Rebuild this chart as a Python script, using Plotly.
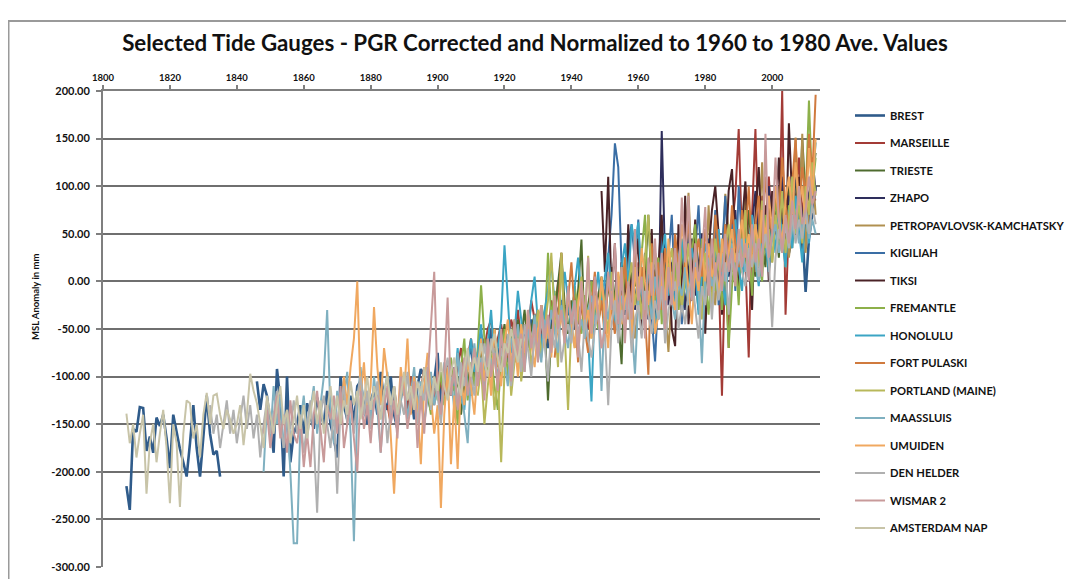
import plotly.graph_objects as go

title_text = "Selected Tide Gauges - PGR Corrected and Normalized to 1960 to 1980 Ave. Values"
y_title = "MSL Anomaly in mm"
x_ticks = [1800, 1820, 1840, 1860, 1880, 1900, 1920, 1940, 1960, 1980, 2000]
y_ticks = [200, 150, 100, 50, 0, -50, -100, -150, -200, -250, -300]

names = ["BREST", "MARSEILLE", "TRIESTE", "ZHAPO", "PETROPAVLOVSK-KAMCHATSKY", "KIGILIAH",
         "TIKSI", "FREMANTLE", "HONOLULU", "FORT PULASKI", "PORTLAND (MAINE)", "MAASSLUIS",
         "UMUIDEN", "DEN HELDER", "WISMAR 2", "AMSTERDAM NAP"]
colors = ["#2F5B8A", "#A33B36", "#4E6B2E", "#2E2E5C", "#B09050", "#3A6EA5",
          "#4A2226", "#8DB04A", "#3BA5C4", "#D07A3E", "#B8B85A", "#7FB0C0",
          "#F0A860", "#B0B0B0", "#C89A9A", "#C8C4A8"]

# first year of each series (one value per year after that)
start_years = [1807, 1885, 1905, 1959, 1957, 1950, 1949, 1897, 1905, 1935, 1912, 1848, 1871, 1832, 1848, 1807]

brest = [-215, -240, -155,                                                 # 1807-1809
         -158, -132, -133, -178, -163, -180, -143, -152, -140, -165,       # 1810s
         -196, -140, -160, -176, -190, -205, -170, -130, -175, -205,       # 1820s
         -163, -120, -160, -182, -178, -205, None, None, None, None,       # 1830s
         None, None, None, None, None, None, -105, -135, -108, -120,       # 1840s
         -150, -180, -92, -125, -205, -100, -190, -160, -150, -130,        # 1850s
         -160, -128, -142, -155, -122, -140, -150, -115, -150, -165,       # 1860s
         -185, -100, -130, -145, -120, -150, -110, -105, -130, -150,       # 1870s
         -125, -115, -140, -95, -125, -135, -100, -140, -155, -120,        # 1880s
         -100, -130, -115, -145, -110, -92, -100, -120, -135, -105,        # 1890s
         -75, -130, -95, -110, -120, -90, -105, -115, -95, -80,            # 1900s
         -70, -100, -85, -95, -60, -75, -50, -80, -70, -90,                # 1910s
         -65, -85, -55, -60, -45, -70, -50, -65, -40, -55,                 # 1920s
         -45, -60, -50, -70, -40, -35, -30, -20, -45, -30,                 # 1930s
         -40, -50, -35, -25, None, None, None, None, None, None,           # 1940s
         None, None, None, -25, -20, -10, -35, -15, 5, -20,                # 1950s
         0, 15, -20, -25, -10, 10, 20, -5, -10, 5,                         # 1960s
         -15, -5, -20, 0, 15, -10, -15, 20, 10, 15,                        # 1970s
         -5, 20, 10, 25, 5, -10, 5, 10, 40, 20,                            # 1980s
         35, 10, 15, 25, 45, 30, 10, 30, 40, 55,                           # 1990s
         60, 65, 45, 40, 35, 30, 45, 60, 50, 55,                           # 2000s
         -11, 45, 70, 100]                                                 # 2010-2013

marseille = [-130, -150, -110, -140, -125,                                 # 1885-1889
             -105, -135, -100, -120, -140, -115, -90, -125, -105, -130,    # 1890s
             -95, -110, -120, -85, -100, -115, -90, -70, -100, -80,        # 1900s
             -60, -90, -75, -55, -70, -50, -40, -75, -60, -45,             # 1910s
             -70, -80, -40, -55, -30, -65, -45, -55, -20, -40,             # 1920s
             -30, -55, -35, -60, -20, -40, 0, -30, -45, -15,               # 1930s
             -35, -10, -45, -30, -15, -50, -20, -5, -40, -25,              # 1940s
             -10, 5, -20, -35, -15, 10, -25, -10, 15, -5,                  # 1950s
             20, 5, -20, 10, -15, 0, 25, 5, -10, 15,                       # 1960s
             -5, -25, 10, -15, 20, 0, -20, 30, 5, 20,                      # 1970s
             -10, 15, 35, -5, 10, -120, 30, -70, 60, 90,                   # 1980s
             160, 40, 20, -80, 70, 160, 30, 90, 60, 110,                   # 1990s
             50, 80, 40, 200, -35, 60, 110, 80, 130, 70,                   # 2000s
             100, 60, 90, 85]                                              # 2010-2013

trieste = [-125, -100, -140, -110, -95,                                    # 1905-1909
           -120, -85, -105, -70, -95, -60, -80, -50, -90, -70,             # 1910s
           -45, -75, -55, -85, -40, -60, -30, -70, -50, -35,               # 1920s
           -60, -25, -45, -125, -50, -35, -5, 30, -25, -55,                # 1930s
           -20, -45, -10, 44, -60, -25, 0, -35, -15, 5,                    # 1940s
           -30, -10, 15, -20, -40, -87, 25, -15, 10, -5,                   # 1950s
           15, -25, 5, 70, -10, 10, -20, 40, 0, -15,                       # 1960s
           20, -5, 35, -25, 10, -10, 25, 5, -30, 15,                       # 1970s
           -5, 30, -15, 20, 45, 0, 25, 55, 10, 35,                         # 1980s
           -10, 50, 20, 75, 30, 5, 60, 40, 15, 80,                         # 1990s
           45, 65, 25, 85, 50, 100, 35, 120, 60, 150,                      # 2000s
           90, 140, 110, 135]                                              # 2010-2013

zhapo = [-30,                                                              # 1959
         10, -20, 25, -40, 0, 30, -40, 158, 20, -25,                       # 1960s
         15, 40, -5, 25, -30, 10, 45, -15, 20, 50,                         # 1970s
         0, 35, -20, 55, 10, 30, 60, 5, 40, 75,                            # 1980s
         15, 50, 85, 25, 60, 95, 30, 70, 45, 100,                          # 1990s
         55, 80, 40, 110, 65, 90, 50, 120, 75, 60,                         # 2000s
         105, 85, 130, 95]                                                 # 2010-2013

petro = [-40, -10, -60,                                                    # 1957-1959
         -20, 10, -35, 20, -15, -45, 5, 30, -25, -74,                      # 1960s
         -10, 25, -30, 0, 35, 93, 10, 60, -5, 20,                          # 1970s
         -15, 80, 5, -25, 40, 15, 92, 50, 20, 65,                          # 1980s
         0, 35, 100, 25, 55, 10, 45, 125, 30, 70,                          # 1990s
         20, 60, 100, 40, 75, 25, 55, 151, 45, 155,                        # 2000s
         30, 80, 120, 70]                                                  # 2010-2013

kigiliah = [-20, 30, 70, 145, 120, 15, -30, 40, 60, 20,                    # 1950s
            65, -20, 30, 10, -40, -84, -10, 50, -35, 25,                   # 1960s
            70, -15, 40, -45, 10, 55, -20, 35, 80, 0,                      # 1970s
            -40, 45, 10, 75, -25, 30, 90, 20, 60, -10,                     # 1980s
            100, 40, 70, 5, 50]                                            # 1990-1994

tiksi = [95,                                                               # 1949
         10, 110, -15, 40, -60, 20, -30, 60, -45, 10,                      # 1950s
         45, -55, 25, -20, 55, -40, 15, 70, -30, 35,                       # 1960s
         -50, -68, 60, -25, 90, -45, 5, 65, -20, 40,                       # 1970s
         -55, 30, 75, 100, 50, -35, 20, 95, 118, 40,                       # 1980s
         -15, 60, 105, 25, -30, 70, 120, 35, 80, 0,                        # 1990s
         95, 50, 130, 60, 20, 166, 85, 45, 110, 30,                        # 2000s
         75]                                                               # 2010

fremantle = [-115, -140, -100,                                             # 1897-1899
             -125, -95, -130, -105, -80, -115, -150, -90, -60, -125,       # 1900s
             -85, -110, -70, -4, -60, -95, -75, -110, -135, -85,           # 1910s
             -50, -100, -70, -40, -80, -55, -90, -35, -65, -45,            # 1920s
             -80, -25, -55, 30, -40, -10, -50, -30, -60, -20,              # 1930s
             -45, -5, -35, -55, -15, -40, 0, -25, -50, -10,                # 1940s
             -35, 10, -20, -45, 5, -30, 20, -15, -40, 15,                  # 1950s
             -25, 30, 70, -35, 10, -20, 25, -45, 0, 35,                    # 1960s
             -15, 20, -30, 40, 5, -25, 30, 60, -20, 45,                    # 1970s
             0, -35, 25, -10, 40, -30, 15, -70, -5, 30,                    # 1980s
             -25, 55, 10, 35, -15, 60, 20, 0, 70, 25,                      # 1990s
             45, 90, 30, 60, 15, 80, 40, 65, 100, 50,                      # 2000s
             85, 190, 95, 130]                                             # 2010-2013

honolulu = [-110, -70, -120, -135, -90,                                    # 1905-1909
            -60, -95, -80, -45, -100, -65, -30, -85, -70, -40,             # 1910s
            38, -20, -75, -55, -10, -40, -85, -60, -20, 5,                 # 1920s
            -45, -70, -30, -10, 20, -25, -55, -35, 10, -20,                # 1930s
            -50, -5, 25, -15, -40, -60, -126, -20, 10, -30,                # 1940s
            5, 30, -10, -45, -25, 15, 40, -5, 60, 35,                      # 1950s
            62, -10, -40, 20, -25, -55, 5, 30, 50, -15,                    # 1960s
            10, -30, 25, 45, 0, -20, 35, 15, -35, 5,                       # 1970s
            40, 20, -10, 30, 55, 10, -25, 25, 45, 65,                      # 1980s
            15, -10, 50, 30, 70, 20, -5, 55, 40, 10,                       # 1990s
            65, 30, 85, 45, 15, 75, 35, 90, 55, 20,                        # 2000s
            80, 40, 100, 146]                                              # 2010-2013

fort_pulaski = [-80, -40, 30, -55, -20,                                    # 1935-1939
                20, -35, -85, -15, -50, -75, -25, 10, -45, -20,            # 1940s
                -60, 5, -30, -55, 0, -25, 25, -40, -10, 30,                # 1950s
                -20, 15, -35, -98, 40, -15, 20, -30, 35, 0,                # 1960s
                -20, 50, 10, -25, 30, 65, -5, 25, 45, 5,                   # 1970s
                55, 20, -10, 70, 35, 10, 60, 25, 80, 40,                   # 1980s
                15, 75, 45, 100, 30, 60, 90, 40, 110, 70,                  # 1990s
                50, 95, 65, 130, 80, 55, 105, 150, 75, 120,                # 2000s
                90, 155, 110, 196]                                         # 2010-2013

portland = [-120, -90, -150, -110, -80, -135, -100, -190,                  # 1912-1919
            -95, -60, -120, -85, -50, -105, -70, -40, -90, -60,            # 1920s
            -30, -80, -50, -20, 30, -40, -90, 30, -55, -135,               # 1930s
            -45, -70, -20, 5, -50, 27, -60, -15, -40, 0,                   # 1940s
            -25, -55, 10, -35, -10, 15, -30, -5, 20, -25,                  # 1950s
            5, -40, 25, 70, 0, 30, -20, 10, -35, 15,                       # 1960s
            35, -10, 20, -30, 5, 40, -15, 25, -5, -40,                     # 1970s
            30, 10, -25, 45, 15, -10, 35, 60, 20, -5,                      # 1980s
            50, 25, 75, 5, 40, 60, 15, 85, 35, 55,                         # 1990s
            20, 70, 45, 95, 30, 65, 110, 50, 85, 40,                       # 2000s
            100, 70, 125, 90]                                              # 2010-2013

maassluis = [-200, -130,                                                   # 1848-1849
             -165, -110, -150, -120, -175, -140, -200, -275, -275, -150,   # 1850s
             -120, -165, -135, -110, -160, -130, -100, -30, -140, -170,    # 1860s
             -115, -150, -125, -95, -160, -273, -130, -90, -140, -115,     # 1870s
             -150, -100, -135, -180, -120, -95, -140, -110, -155, -125,    # 1880s
             -100, -145, -115, -90, -135, -105, -150, -120, -95, -130,     # 1890s
             -110, -145, -85, -120, -100, -135, -75, -110, -140, -170,     # 1900s
             -95, -65, -100, -80, -115, -60, -90, -70, -105, -55,          # 1910s
             -85, -110, -60, -80, -45, -75, -95, -50, -70, -35,            # 1920s
             -65, -85, -40, -60, -30, -55, -75, -25, -50, -70,             # 1930s
             -35, -20, -55, -40, -60, -30, -15, -45, -25, -115,            # 1940s
             -20, -40, -10, -35, -55, -15, -30, -5, -45, -97,              # 1950s
             -20, 0, -30, -10, -40, 5, -25, -5, -35, 10,                   # 1960s
             -20, -40, 0, -15, 15, -25, -5, 20, -10, -86,                  # 1970s
             5, 25, -5, 10, -15, 30, 0, 15, 40, 5,                         # 1980s
             25, 45, 10, 30, 50, 20, 0, 35, 55, 25,                        # 1990s
             45, 60, 30, 50, 65, 35, 55, 70, 40, 60,                       # 2000s
             75, 45, 65, 50]                                               # 2010-2013

umuiden = [-150, -100, -130, -90, -60, 0, -120, -85, -140,                 # 1871-1879
           -110, -27, -90, -130, -70, -100, -160, -223, -150, -90,         # 1880s
           -120, -60, -140, -100, -130, -192, -110, -75, -120, -160,       # 1890s
           -130, -238, -140, -90, -192, -120, -197, -100, -130, -80,       # 1900s
           -110, -140, -90, -60, -105, -75, -120, -50, -85, -110,          # 1910s
           -65, -40, -90, -60, -100, -45, -75, -30, -65, -90,              # 1920s
           -50, -25, -70, -45, -80, -20, -55, -35, -65, -10,               # 1930s
           -45, -70, -25, 0, -50, -30, -60, -15, -40, 5,                   # 1940s
           -35, -70, -10, -30, 10, -45, -20, -5, -60, 15,                  # 1950s
           -20, 35, 0, -25, 20, -55, -35, 5, -20, 45,                      # 1960s
           -10, -30, 10, 60, 30, -5, -45, 15, -10, 35,                     # 1970s
           0, 40, 5, 20, -15, 45, 10, 30, 55, 20,                          # 1980s
           40, 65, 25, 50, 15, 60, 35, 75, 45, 90,                         # 1990s
           55, 100, 65, 40, 85, 110, 70, 125, 80, 100,                     # 2000s
           60, 140, 90, 150]                                               # 2010-2013

den_helder = [-130, -160, -140, -175, -150, -125, -160, -135,              # 1832-1839
              -170, -145, -120, -155, -130, -165, -140, -185, -150, -125,  # 1840s
              -160, -140, -115, -150, -175, -135, -155, -125, -160, -140,  # 1850s
              -180, -150, -125, -165, -243, -140, -120, -150, -175, -135,  # 1860s
              -223, -130, -110, -150, -130, -160, -120, -100, -140, -115,  # 1870s
              -155, -130, -105, -145, -120, -170, -135, -110, -150, -125,  # 1880s
              -140, -95, -130, -115, -150, -110, -125, -90, -135, -105,    # 1890s
              -120, -150, -100, -80, -115, -95, -130, -85, -110, -75,      # 1900s
              -100, -120, -80, -95, -65, -90, -60, -85, -105, -70,         # 1910s
              -90, -55, -110, -75, -60, -95, -45, -70, -100, -55,          # 1920s
              -75, -40, -65, -105, -50, -70, -35, -85, -60, -45,           # 1930s
              -65, -30, -55, -95, -40, -60, -80, -50, -30, -70,            # 1940s
              -55, -130, -45, -20, -65, -30, -50, -15, -75, -40,           # 1950s
              -25, -60, -10, -35, -55, -20, -40, -5, -65, -30,             # 1960s
              -15, 0, -50, -25, -45, -10, 5, -30, -60, -5,                 # 1970s
              -25, 10, -40, 15, -20, 0, 20, -35, 25, 5,                    # 1980s
              30, 10, -5, 35, 15, 40, 5, 30, 50, 20,                       # 1990s
              -48, 25, 55, 30, 60, 35, 70, 40, 65, 45,                     # 2000s
              75, 50, 80, 60]                                              # 2010-2013

wismar = [-160, -135,                                                      # 1848-1849
          -175, -150, -120, -165, -140, -180, -125, -160, -170, -145,      # 1850s
          -195, -160, -195, -140, -115, -155, -190, -130, -145, -120,      # 1860s
          -160, -110, -175, -150, -125, -165, -200, -115, -155, -130,      # 1870s
          -170, -125, -120, -180, -135, -110, -150, -125, -165, -100,      # 1880s
          -115, -155, -130, -105, -175, -120, -160, -100, -50, 10,         # 1890s
          -110, -140, -95, -17, -120, -90, -135, -105, -80, -120,          # 1900s
          -95, -70, -110, -85, -125, -60, -100, -75, -115, -50,            # 1910s
          -90, -65, -105, -40, -80, -55, -95, -30, -70, -45,               # 1920s
          -85, -25, -60, -35, -75, -15, -50, -30, -65, -5,                 # 1930s
          -45, -20, -80, 0, -40, 25, -55, 5, -35, -70,                     # 1940s
          -50, 10, -30, 40, -45, 15, -65, 0, -40, 55,                      # 1950s
          -20, 5, -60, 25, -15, 45, -30, 30, -50, 15,                      # 1960s
          -25, 35, -5, 88, 20, 90, -20, 40, 0, 25,                         # 1970s
          78, -15, 45, 5, 30, -10, 50, 10, 35, -5,                         # 1980s
          55, 15, 40, 0, 60, 20, 45, 5, 155, 25,                           # 1990s
          50, 130, 65, 30, 70, 40, 85, 55, 100, 60,                        # 2000s
          75, 110, 80, 95]                                                 # 2010-2013

amsterdam = [-139, -170, -150,                                             # 1807-1809
             -185, -160, -140, -223, -170, -150, -190, -160, -135, -175,   # 1810s
             -233, -150, -170, -237, -160, -125, -128, -165, -150, -185,   # 1820s
             -140, -117, -150, -120, -118, -140, -155, -135, -145, -160,   # 1830s
             -150, -130, -172, -140, -97, -115, -128, -150, -175, -120,    # 1840s
             -140, -160, -130, -110, -150, -135, -170, -145, -120, -155,   # 1850s
             -130, -165, -140, -115, -150, -125, -160, -135, -110, -145,   # 1860s
             -120, -150, -125, -140, -105, -130, -115, -145, -120, -100,   # 1870s
             -135, -110, -125, -145, -115, -100, -130, -110, -140, -120,   # 1880s
             -95, -125, -110, -135, -105, -120, -90, -115, -130, -100,     # 1890s
             -115, -85, -110, -125, -95, -80, -105, -120, -90, -70,        # 1900s
             -100, -80, -95, -65, -85, -100, -70, -55, -80, -95,           # 1910s
             -65, -75, -50, -70, -85, -60]                                 # 1920-1925

series_values = [brest, marseille, trieste, zhapo, petro, kigiliah, tiksi, fremantle, honolulu,
                 fort_pulaski, portland, maassluis, umuiden, den_helder, wismar, amsterdam]
line_widths = [2.6] + [2.0] * 15

FONT = "Lato"
fig = go.Figure()
for i, (name, vals) in enumerate(zip(names, series_values)):
    years = list(range(start_years[i], start_years[i] + len(vals)))
    fig.add_trace(go.Scatter(
        x=years, y=vals, mode="lines", name=name, legendgroup=name,
        line=dict(color=colors[i], width=line_widths[i]), connectgaps=False,
    ))

# The page has the browser's default 8px body margin; the figure is sized to fill the rest.
OFF = 8
FW, FH = 1074 - OFF, 579 - OFF
# plot area in page pixels: x 103..820, y 91..567
PL, PR, PT, PB = 103, 820, 91, 567
L, T = PL - OFF, PT - OFF
R, B = 1074 - PR, 579 - PB


def px_x(px):
    return (px - PL) / (PR - PL)


def px_y(py):
    return (PB - py) / (PB - PT)


fig.update_layout(
    width=FW, height=FH,
    margin=dict(l=L, r=R, t=T, b=B, pad=0, autoexpand=False),
    paper_bgcolor="white", plot_bgcolor="white",
    font=dict(family=FONT, color="#111111"),
    title=dict(text=title_text, x=(535 - OFF) / FW, xref="container", xanchor="center",
               y=1 - (43 - OFF) / FH, yref="container", yanchor="middle",
               font=dict(family=FONT, size=22.3, weight="bold", color="#111111")),
    showlegend=True,
    legend=dict(x=px_x(850), xanchor="left", y=px_y(101), yanchor="top",
                font=dict(family=FONT, size=11.2, weight="bold", color="#111111"),
                tracegroupgap=8.5, itemwidth=30, bgcolor="rgba(0,0,0,0)",
                traceorder="grouped"),
    shapes=[
        dict(type="line", xref="paper", yref="paper", x0=px_x(8.5), x1=px_x(8.5),
             y0=px_y(21), y1=px_y(585), line=dict(color="#9a9a9a", width=2)),
        dict(type="line", xref="paper", yref="paper", x0=px_x(8), x1=px_x(1080),
             y0=px_y(21), y1=px_y(21), line=dict(color="#9a9a9a", width=2)),
    ],
    annotations=[
        dict(text=y_title, xref="paper", yref="paper", x=px_x(35), y=px_y(297),
             xanchor="center", yanchor="middle", textangle=-90, showarrow=False,
             font=dict(family=FONT, size=9.5, weight="bold", color="#111111")),
    ],
)

fig.update_xaxes(
    side="top", range=[1800, 2014.3], tickmode="array", tickvals=x_ticks,
    ticktext=[str(v) for v in x_ticks], ticks="outside", ticklen=4, tickwidth=1.5,
    tickcolor="#7f7f7f", showline=True, linecolor="#7f7f7f", linewidth=2,
    showgrid=False, zeroline=False, automargin=False,
    tickfont=dict(family=FONT, size=9.5, weight="bold", color="#111111"),
)
fig.update_yaxes(
    range=[-300, 200], tickmode="array", tickvals=y_ticks,
    ticktext=[f"{v:.2f}" for v in y_ticks], ticks="outside", ticklen=5, tickwidth=1.5,
    tickcolor="#7f7f7f", showline=True, linecolor="#7f7f7f", linewidth=2,
    showgrid=True, gridcolor="#6f6f6f", gridwidth=1.8, zeroline=False, automargin=False,
    ticklabelstandoff=4,
    tickfont=dict(family=FONT, size=11, weight="bold", color="#111111"),
)

fig.write_html("out.html")
